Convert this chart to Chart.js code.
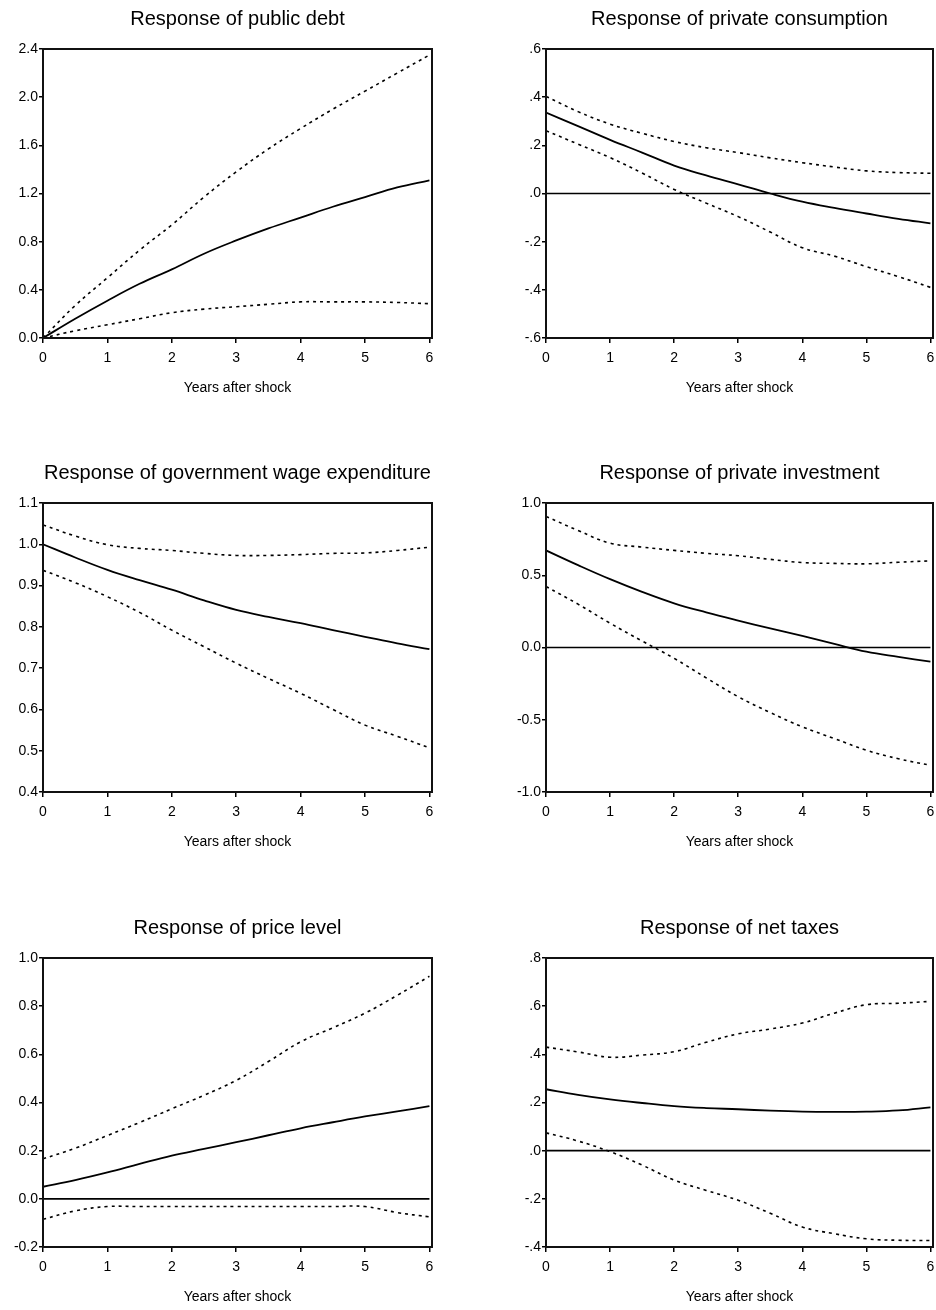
<!DOCTYPE html>
<html>
<head>
<meta charset="utf-8">
<script src="https://cdn.jsdelivr.net/npm/chart.js@4.4.0/dist/chart.umd.min.js"></script>
<style>
  body { margin: 0; background: #fff; width: 936px; height: 1310px; position: relative; overflow: hidden; }
  .panel { position: absolute; width: 468px; height: 400px; }
</style>
</head>
<body>
<div class="panel" style="left:0;top:0"><canvas id="debtChart" width="468" height="400"></canvas></div>
<div class="panel" style="left:468px;top:0"><canvas id="consChart" width="468" height="400"></canvas></div>
<div class="panel" style="left:0;top:454px"><canvas id="wageChart" width="468" height="400"></canvas></div>
<div class="panel" style="left:468px;top:454px"><canvas id="invChart" width="468" height="400"></canvas></div>
<div class="panel" style="left:0;top:909px"><canvas id="priceChart" width="468" height="400"></canvas></div>
<div class="panel" style="left:468px;top:909px"><canvas id="taxChart" width="468" height="400"></canvas></div>
<script>
// Years after shock (half-year steps)
const years = [0, 0.5, 1, 1.5, 2, 2.5, 3, 3.5, 4, 4.5, 5, 5.5, 6];
const xTickLabels = ['0', '1', '2', '3', '4', '5', '6'];

// Public debt
const debtMean  = [0, 0.16, 0.31, 0.45, 0.57, 0.70, 0.81, 0.91, 1.00, 1.09, 1.17, 1.25, 1.31];
const debtUpper = [0, 0.27, 0.50, 0.73, 0.94, 1.17, 1.38, 1.57, 1.74, 1.90, 2.05, 2.20, 2.35];
const debtLower = [0, 0.06, 0.11, 0.16, 0.21, 0.24, 0.26, 0.28, 0.30, 0.30, 0.30, 0.295, 0.285];
const debtTicks = ['0.0', '0.4', '0.8', '1.2', '1.6', '2.0', '2.4'];

// Private consumption
const consMean  = [0.336, 0.28, 0.223, 0.17, 0.116, 0.075, 0.038, 0.0, -0.034, -0.06, -0.083, -0.105, -0.124];
const consUpper = [0.403, 0.34, 0.288, 0.25, 0.216, 0.19, 0.17, 0.148, 0.128, 0.11, 0.094, 0.087, 0.084];
const consLower = [0.261, 0.205, 0.149, 0.085, 0.017, -0.04, -0.096, -0.16, -0.225, -0.26, -0.304, -0.345, -0.39];
const consTicks = ['-.6', '-.4', '-.2', '.0', '.2', '.4', '.6'];

// Government wage expenditure
const wageMean  = [1.0, 0.968, 0.938, 0.913, 0.89, 0.864, 0.841, 0.824, 0.809, 0.792, 0.776, 0.76, 0.746];
const wageUpper = [1.047, 1.02, 0.999, 0.99, 0.985, 0.978, 0.973, 0.973, 0.975, 0.978, 0.979, 0.985, 0.993];
const wageLower = [0.937, 0.907, 0.873, 0.835, 0.792, 0.752, 0.712, 0.675, 0.639, 0.60, 0.562, 0.535, 0.507];
const wageTicks = ['0.4', '0.5', '0.6', '0.7', '0.8', '0.9', '1.0', '1.1'];

// Private investment
const invMean  = [0.672, 0.57, 0.473, 0.385, 0.306, 0.243, 0.186, 0.132, 0.08, 0.025, -0.029, -0.065, -0.098];
const invUpper = [0.907, 0.81, 0.722, 0.695, 0.672, 0.652, 0.635, 0.61, 0.588, 0.582, 0.579, 0.59, 0.60];
const invLower = [0.422, 0.30, 0.168, 0.045, -0.075, -0.21, -0.341, -0.45, -0.549, -0.63, -0.711, -0.77, -0.815];
const invTicks = ['-1.0', '-0.5', '0.0', '0.5', '1.0'];

// Price level
const priceMean  = [0.05, 0.078, 0.11, 0.145, 0.179, 0.207, 0.235, 0.264, 0.293, 0.318, 0.342, 0.363, 0.385];
const priceUpper = [0.166, 0.21, 0.263, 0.317, 0.374, 0.43, 0.492, 0.57, 0.652, 0.71, 0.771, 0.845, 0.924];
const priceLower = [-0.085, -0.05, -0.032, -0.032, -0.032, -0.032, -0.032, -0.032, -0.032, -0.032, -0.032, -0.057, -0.075];
const priceTicks = ['-0.2', '0.0', '0.2', '0.4', '0.6', '0.8', '1.0'];

// Net taxes
const taxMean  = [0.255, 0.232, 0.213, 0.198, 0.185, 0.177, 0.172, 0.166, 0.162, 0.161, 0.162, 0.167, 0.18];
const taxUpper = [0.43, 0.41, 0.388, 0.397, 0.411, 0.45, 0.485, 0.505, 0.53, 0.571, 0.606, 0.612, 0.62];
const taxLower = [0.074, 0.04, -0.004, -0.06, -0.122, -0.165, -0.206, -0.26, -0.317, -0.345, -0.366, -0.372, -0.373];
const taxTicks = ['-.4', '-.2', '.0', '.2', '.4', '.6', '.8'];

const zeroLine = [0, 0];
const zeroYears = [0, 6];

Chart.defaults.font.family = '"Liberation Sans", Arial, sans-serif';
Chart.defaults.color = '#000';

// box around the plot area
const framePlugin = {
  id: 'frame',
  afterDraw(chart) {
    const { ctx, chartArea: a } = chart;
    ctx.save();
    ctx.strokeStyle = '#111';
    ctx.lineWidth = 2;
    ctx.strokeRect(a.left, a.top, a.right - a.left, a.bottom - a.top);
    ctx.restore();
  }
};

function toPoints(xs, ys) {
  return ys.map((y, i) => ({ x: xs[i], y: y }));
}

function lineSet(values, dashed) {
  return {
    data: toPoints(years, values),
    borderColor: '#000',
    borderWidth: dashed ? 1.6 : 1.8,
    borderDash: dashed ? [3, 4] : [],
    pointRadius: 0,
    tension: 0.4,
    fill: false
  };
}

function makeChart(id, title, mean, upper, lower, tickLabels, showZero, axisWidth, rightPad) {
  const tickValues = tickLabels.map(t => parseFloat(t));
  const datasets = [lineSet(mean, false), lineSet(upper, true), lineSet(lower, true)];
  if (showZero) {
    datasets.push({
      data: toPoints(zeroYears, zeroLine),
      borderColor: '#000',
      borderWidth: 1.6,
      pointRadius: 0
    });
  }
  const ctx = document.getElementById(id).getContext('2d');
  return new Chart(ctx, {
    type: 'line',
    data: { datasets: datasets },
    options: {
      responsive: false,
      animation: false,
      layout: { padding: { top: 7, left: 0, right: rightPad, bottom: 2 } },
      plugins: {
        legend: { display: false },
        tooltip: { enabled: false },
        title: {
          display: true,
          text: title,
          fullSize: false,
          color: '#000',
          font: { size: 20, weight: 'normal' },
          padding: { top: 0, bottom: 18 }
        }
      },
      scales: {
        x: {
          type: 'linear',
          min: 0,
          max: 6.04,
          afterBuildTicks: s => { s.ticks = xTickLabels.map(t => ({ value: parseFloat(t) })); },
          afterFit: s => { s.height = 60; s.paddingLeft = 0; s.paddingRight = 0; },
          ticks: { color: '#000', font: { size: 14 }, padding: 7, maxRotation: 0, autoSkip: false,
                   callback: (v, i) => xTickLabels[i] },
          grid: { drawOnChartArea: false, drawTicks: true, tickLength: 5, color: '#000', lineWidth: 1.5 },
          border: { display: true, color: '#111', width: 2 },
          title: { display: true, text: 'Years after shock', color: '#000', font: { size: 14 },
                   padding: { top: 0, bottom: 1 } }
        },
        y: {
          min: tickValues[0],
          max: tickValues[tickValues.length - 1],
          afterBuildTicks: s => { s.ticks = tickValues.map(v => ({ value: v })); },
          afterFit: s => { s.width = axisWidth; s.paddingTop = 0; s.paddingBottom = 0; },
          ticks: { color: '#000', font: { size: 14 }, padding: 1, autoSkip: false,
                   callback: (v, i) => tickLabels[i] },
          grid: { drawOnChartArea: false, drawTicks: true, tickLength: 4, color: '#000', lineWidth: 1.5 },
          border: { display: true, color: '#111', width: 2 }
        }
      }
    },
    plugins: [framePlugin]
  });
}

makeChart('debtChart', 'Response of public debt', debtMean, debtUpper, debtLower, debtTicks, false, 43, 36);
makeChart('consChart', 'Response of private consumption', consMean, consUpper, consLower, consTicks, true, 78, 3);
makeChart('wageChart', 'Response of government wage expenditure', wageMean, wageUpper, wageLower, wageTicks, false, 43, 36);
makeChart('invChart', 'Response of private investment', invMean, invUpper, invLower, invTicks, true, 78, 3);
makeChart('priceChart', 'Response of price level', priceMean, priceUpper, priceLower, priceTicks, true, 43, 36);
makeChart('taxChart', 'Response of net taxes', taxMean, taxUpper, taxLower, taxTicks, true, 78, 3);
</script>
</body>
</html>
